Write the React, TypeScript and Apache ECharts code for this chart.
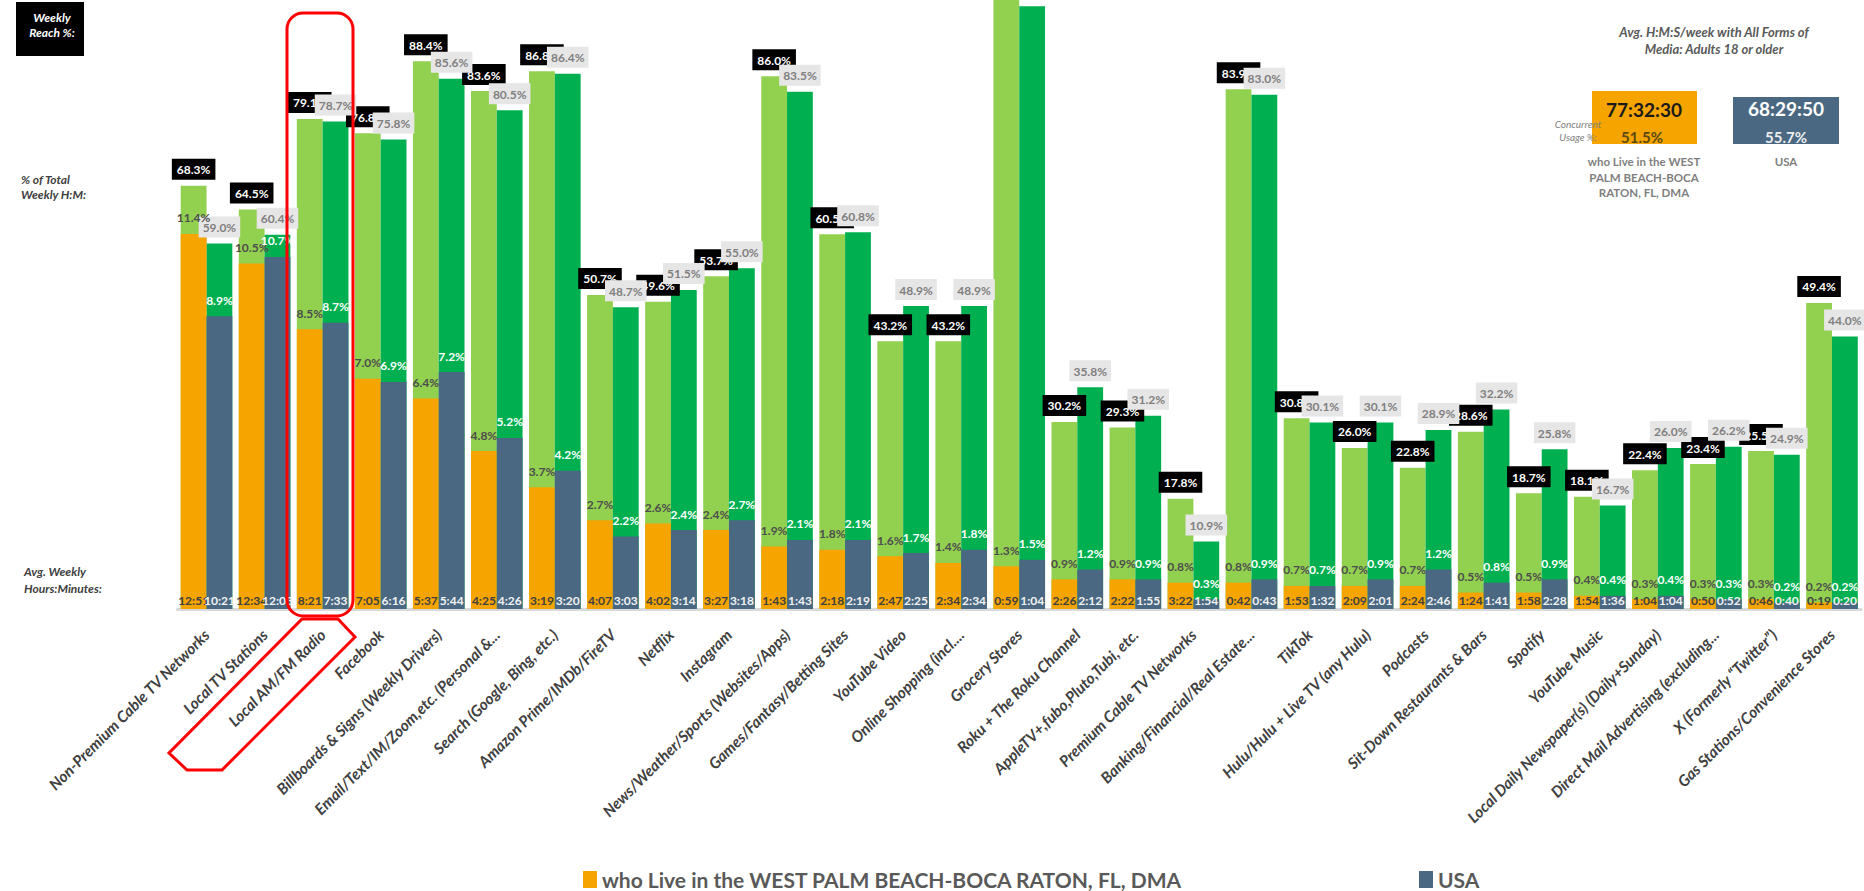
import React, { useEffect, useRef } from "react";
import * as echarts from "echarts";

const categories = [
  "Non-Premium Cable TV Networks",
  "Local TV Stations",
  "Local AM/FM Radio",
  "Facebook",
  "Billboards & Signs (Weekly Drivers)",
  "Email/Text/IM/Zoom,etc. (Personal &...",
  "Search (Google, Bing, etc.)",
  "Amazon Prime/IMDb/FireTV",
  "Netflix",
  "Instagram",
  "News/Weather/Sports (Websites/Apps)",
  "Games/Fantasy/Betting Sites",
  "YouTube Video",
  "Online Shopping (incl....",
  "Grocery Stores",
  "Roku + The Roku Channel",
  "AppleTV+,fubo,Pluto,Tubi, etc.",
  "Premium Cable TV Networks",
  "Banking/Financial/Real Estate...",
  "TikTok",
  "Hulu/Hulu + Live TV (any Hulu)",
  "Podcasts",
  "Sit-Down Restaurants & Bars",
  "Spotify",
  "YouTube Music",
  "Local Daily Newspaper(s) (Daily+Sunday)",
  "Direct Mail Advertising (excluding...",
  "X (Formerly \u201CTwitter\u201D)",
  "Gas Stations/Convenience Stores",
];

// Weekly reach %
const reachLocal = [68.3, 64.5, 79.1, 76.8, 88.4, 83.6, 86.8, 50.7, 49.6, 53.7, 86.0, 60.5, 43.2, 43.2, 98.9, 30.2, 29.3, 17.8, 83.9, 30.8, 26.0, 22.8, 28.6, 18.7, 18.1, 22.4, 23.4, 25.5, 49.4];
const reachUSA = [59.0, 60.4, 78.7, 75.8, 85.6, 80.5, 86.4, 48.7, 51.5, 55.0, 83.5, 60.8, 48.9, 48.9, 97.3, 35.8, 31.2, 10.9, 83.0, 30.1, 30.1, 28.9, 32.2, 25.8, 16.7, 26.0, 26.2, 24.9, 44.0];

// % of total weekly H:M
const shareLocal = [11.4, 10.5, 8.5, 7.0, 6.4, 4.8, 3.7, 2.7, 2.6, 2.4, 1.9, 1.8, 1.6, 1.4, 1.3, 0.9, 0.9, 0.8, 0.8, 0.7, 0.7, 0.7, 0.5, 0.5, 0.4, 0.3, 0.3, 0.3, 0.2];
const shareUSA = [8.9, 10.7, 8.7, 6.9, 7.2, 5.2, 4.2, 2.2, 2.4, 2.7, 2.1, 2.1, 1.7, 1.8, 1.5, 1.2, 0.9, 0.3, 0.9, 0.7, 0.9, 1.2, 0.8, 0.9, 0.4, 0.4, 0.3, 0.2, 0.2];

// Avg weekly hours:minutes
const timeLocal = ["12:51", "12:34", "8:21", "7:05", "5:37", "4:25", "3:19", "4:07", "4:02", "3:27", "1:43", "2:18", "2:47", "2:34", "0:59", "2:26", "2:22", "3:22", "0:42", "1:53", "2:09", "2:24", "1:24", "1:58", "1:54", "1:04", "0:50", "0:46", "0:19"];
const timeUSA = ["10:21", "12:03", "7:33", "6:16", "5:44", "4:26", "3:20", "3:03", "3:14", "3:18", "1:43", "2:19", "2:25", "2:34", "1:04", "2:12", "1:55", "1:54", "0:43", "1:32", "2:01", "2:46", "1:41", "2:28", "1:36", "1:04", "0:52", "0:40", "0:20"];

const localName = "who Live in the WEST PALM BEACH-BOCA RATON, FL, DMA";
const usaName = "USA";

const totalLocal = "77:32:30";
const totalUSA = "68:29:50";
const concurrentLocal = "51.5%";
const concurrentUSA = "55.7%";

const FONT = "Lato, 'Open Sans', sans-serif";
const REACH_MAX = 98.3;
const SHARE_MAX = 18.51;

const hm = (s: string) => {
  const [h, m] = s.split(":").map(Number);
  return h + m / 60;
};

export default function App() {
  const ref = useRef<HTMLDivElement>(null);

  useEffect(() => {
    const chart = echarts.init(ref.current!, null, { renderer: "svg" });
    const pct = (p: any) => Number(p.value).toFixed(1) + "%";
    const barW = 25.8;
    // reach labels that would sit above the top of the plot are not visible in the original
    const reachData = (arr: number[]) =>
      arr.map((v) => (v > REACH_MAX - 4 ? { value: v, label: { show: false } } : v));

    const txt = (
      x: number,
      y: number,
      text: string,
      o: { size: number; color: string; weight?: string; style?: string; align?: string; lh?: number }
    ) => ({
      type: "text",
      x,
      y,
      z: 50,
      style: {
        text,
        fill: o.color,
        fontSize: o.size,
        fontFamily: FONT,
        fontWeight: o.weight || "normal",
        fontStyle: o.style || "normal",
        align: o.align || "center",
        textAlign: o.align || "center",
        verticalAlign: "middle",
        textVerticalAlign: "middle",
        lineHeight: o.lh || o.size + 2,
      },
    });

    const legendBase = {
      top: 869,
      padding: 0,
      icon: "rect",
      itemWidth: 14,
      itemHeight: 17,
      selectedMode: false,
      textStyle: { fontFamily: FONT, fontSize: 21, fontWeight: "bold", color: "#595959" },
    };

    chart.setOption({
      animation: false,
      backgroundColor: "#ffffff",
      grid: { left: 177.5, right: 3, top: 0, bottom: 282, containLabel: false },
      legend: [
        { ...legendBase, data: [localName], left: 583 },
        { ...legendBase, data: [usaName], left: 1419 },
      ],
      xAxis: [
        {
          type: "category",
          data: categories,
          offset: 4,
          axisTick: { show: false },
          axisLine: { show: true, lineStyle: { color: "#d9d9d9", width: 3 } },
          axisLabel: {
            interval: 0,
            rotate: 45,
            margin: 19,
            fontFamily: FONT,
            fontSize: 15.5,
            fontWeight: "bold",
            fontStyle: "italic",
            color: "#404040",
          },
        },
        { type: "category", data: categories, show: false },
        { type: "category", data: categories, show: false },
      ],
      yAxis: [
        { type: "value", min: 0, max: REACH_MAX, show: false },
        { type: "value", min: 0, max: SHARE_MAX, show: false },
      ],
      series: [
        {
          name: "Weekly Reach % (local)",
          type: "bar",
          xAxisIndex: 0,
          yAxisIndex: 0,
          data: reachData(reachLocal),
          barWidth: barW,
          barGap: "0%",
          itemStyle: { color: "#92d050" },
          label: {
            show: true,
            position: "top",
            distance: 6,
            formatter: pct,
            backgroundColor: "#000000",
            color: "#ffffff",
            fontFamily: FONT,
            fontWeight: "bold",
            fontSize: 12,
            padding: [5, 5, 4, 5],
          },
        },
        {
          name: "Weekly Reach % (USA)",
          type: "bar",
          xAxisIndex: 0,
          yAxisIndex: 0,
          data: reachData(reachUSA),
          barWidth: barW,
          barGap: "0%",
          itemStyle: { color: "#00b050" },
          label: {
            show: true,
            position: "top",
            distance: 6,
            formatter: pct,
            backgroundColor: "#e7e6e6",
            color: "#7f7f7f",
            fontFamily: FONT,
            fontWeight: "bold",
            fontSize: 12,
            padding: [5, 4, 4, 4],
          },
        },
        {
          name: localName,
          type: "bar",
          xAxisIndex: 1,
          yAxisIndex: 1,
          data: shareLocal,
          barWidth: barW,
          barGap: "0%",
          itemStyle: { color: "#f5a400" },
          label: {
            show: true,
            position: "top",
            distance: 10,
            formatter: pct,
            color: "#4d4d4d",
            fontFamily: FONT,
            fontWeight: "bold",
            fontSize: 12,
          },
        },
        {
          name: usaName,
          type: "bar",
          xAxisIndex: 1,
          yAxisIndex: 1,
          data: shareUSA,
          barWidth: barW,
          barGap: "0%",
          itemStyle: { color: "#4a6882" },
          label: {
            show: true,
            position: "top",
            distance: 10,
            formatter: pct,
            color: "#ffffff",
            fontFamily: FONT,
            fontWeight: "bold",
            fontSize: 12,
          },
        },
        {
          name: "Avg. Weekly H:M (local)",
          type: "bar",
          xAxisIndex: 2,
          yAxisIndex: 0,
          data: timeLocal.map(hm),
          barWidth: barW,
          barGap: "0%",
          silent: true,
          z: 5,
          itemStyle: { color: "rgba(0,0,0,0)" },
          label: {
            show: true,
            position: "insideBottom",
            distance: 3,
            formatter: (p: any) => timeLocal[p.dataIndex],
            color: "#404040",
            fontFamily: FONT,
            fontWeight: "bold",
            fontSize: 12,
          },
        },
        {
          name: "Avg. Weekly H:M (USA)",
          type: "bar",
          xAxisIndex: 2,
          yAxisIndex: 0,
          data: timeUSA.map(hm),
          barWidth: barW,
          barGap: "0%",
          silent: true,
          z: 5,
          itemStyle: { color: "rgba(0,0,0,0)" },
          label: {
            show: true,
            position: "insideBottom",
            distance: 3,
            formatter: (p: any) => timeUSA[p.dataIndex],
            color: "#f2f2f2",
            fontFamily: FONT,
            fontWeight: "bold",
            fontSize: 12,
          },
        },
      ],
      graphic: [
        { type: "rect", z: 50, shape: { x: 16, y: 2, width: 68, height: 54 }, style: { fill: "#000000" } },
        txt(52, 25, "Weekly\nReach %:", { size: 12, color: "#ffffff", weight: "bold", style: "italic", lh: 15 }),
        txt(21, 186.5, "% of Total\nWeekly H:M:", { size: 12, color: "#404040", weight: "bold", style: "italic", align: "left", lh: 15 }),
        txt(24, 580, "Avg. Weekly\nHours:Minutes:", { size: 12, color: "#404040", weight: "bold", style: "italic", align: "left", lh: 17 }),
        txt(1714, 40.5, "Avg. H:M:S/week with All Forms of\nMedia: Adults 18 or older", { size: 13, color: "#595959", weight: "bold", style: "italic", lh: 17 }),
        { type: "rect", z: 50, shape: { x: 1592, y: 91, width: 105, height: 53 }, style: { fill: "#f5a400" } },
        txt(1644, 109, totalLocal, { size: 19, color: "#1a1a1a", weight: "bold" }),
        txt(1642, 137, concurrentLocal, { size: 15, color: "#5a4a14", weight: "bold" }),
        txt(1578, 130.5, "Concurrent\nUsage %:", { size: 10, color: "#7f7f7f", style: "italic", lh: 13 }),
        { type: "rect", z: 50, shape: { x: 1733, y: 97, width: 106, height: 47 }, style: { fill: "#4a6882" } },
        txt(1786, 108, totalUSA, { size: 19, color: "#ffffff", weight: "bold" }),
        txt(1786, 137, concurrentUSA, { size: 15, color: "#eeeeee", weight: "bold" }),
        txt(1644, 177, "who Live in the WEST\nPALM BEACH-BOCA\nRATON, FL, DMA", { size: 11.5, color: "#7f7f7f", weight: "bold", lh: 15.5 }),
        txt(1786, 161, "USA", { size: 11.5, color: "#7f7f7f", weight: "bold" }),
        {
          type: "rect",
          z: 100,
          shape: { x: 287, y: 13, width: 66, height: 603, r: 16 },
          style: { fill: "none", stroke: "#ff0000", lineWidth: 3 },
        },
        {
          type: "polygon",
          z: 100,
          shape: { points: [[302, 619], [338, 619], [355, 637], [222, 770], [187, 770], [169, 753]] },
          style: { fill: "none", stroke: "#ff0000", lineWidth: 3 },
        },
      ],
    });
    return () => chart.dispose();
  }, []);

  return (
    <div
      ref={ref}
      style={{ position: "fixed", left: 0, top: 0, width: 1864, height: 891, background: "#ffffff" }}
    />
  );
}
